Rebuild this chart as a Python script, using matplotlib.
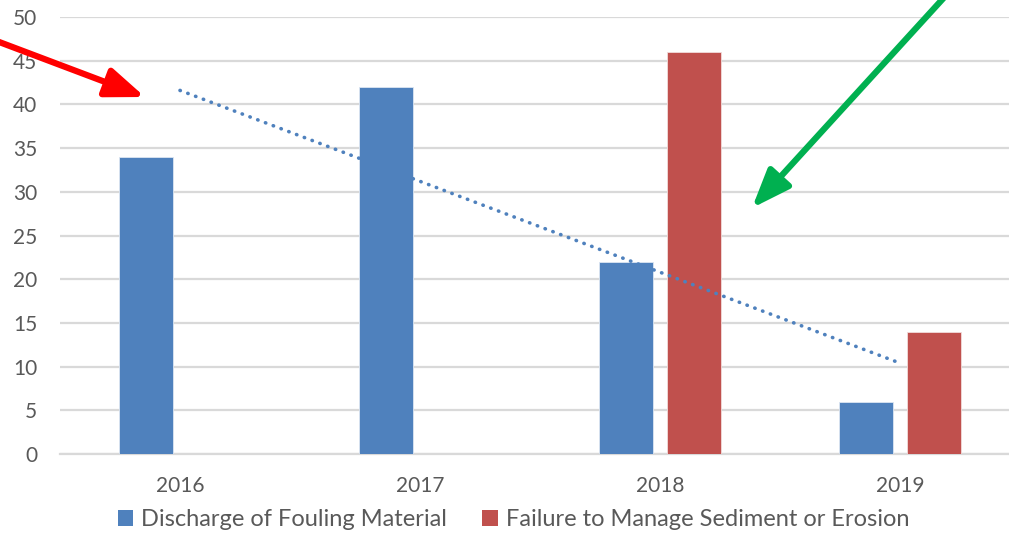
import numpy as np
import matplotlib
matplotlib.use('Agg')
import matplotlib.pyplot as plt
from matplotlib.patches import Patch

# data
years = ['2016', '2017', '2018', '2019']
discharge = [34, 42, 22, 6]
sediment = [0, 0, 46, 14]
y_ticks = [0, 5, 10, 15, 20, 25, 30, 35, 40, 45, 50]
series_names = ['Discharge of Fouling Material', 'Failure to Manage Sediment or Erosion']

blue = '#4F81BD'
red = '#C0504D'
grid_col = '#D9D9D9'
txt_col = '#595959'

plt.rcParams['font.family'] = ['Lato', 'DejaVu Sans']

W, H = 1009, 534
fig = plt.figure(figsize=(W / 100, H / 100), dpi=100)
# plot area runs past the right edge of the picture, as in the reference
ax = fig.add_axes([60 / W, 80 / H, 960 / W, 437 / H])

x = np.arange(len(years))
bw = 0.225
off = 0.1417
ax.bar(x - off, discharge, bw, color=blue, edgecolor='#DCE6F2', linewidth=0.6, zorder=3)
sed_x = [xi + off for xi, v in zip(x, sediment) if v > 0]
sed_v = [v for v in sediment if v > 0]
ax.bar(sed_x, sed_v, bw, color=red, edgecolor='#F2DCDB', linewidth=0.6, zorder=3)

# linear trendline of the discharge series
k, b = np.polyfit(x, discharge, 1)
ax.plot(x, k * x + b, color=blue, linestyle=(0, (0.1, 2.2)), linewidth=2.6,
        dash_capstyle='round', zorder=4)

ax.set_xlim(-0.5, 3.5)
ax.set_ylim(0, 50)
ax.set_yticks(y_ticks)
ax.set_xticks(x)
ax.set_xticklabels(years)
ax.tick_params(axis='both', length=0, labelsize=15, colors=txt_col)
ax.tick_params(axis='y', pad=16.5)
ax.tick_params(axis='x', pad=16)
ax.yaxis.grid(True, color=grid_col, linewidth=1.6, zorder=0)
ax.set_axisbelow(True)
for s in ['top', 'right', 'left']:
    ax.spines[s].set_visible(False)
ax.spines['bottom'].set_color(grid_col)
ax.spines['bottom'].set_linewidth(1.6)

handles = [Patch(facecolor=blue, edgecolor='none'), Patch(facecolor=red, edgecolor='none')]
fig.legend(handles, series_names, loc='center', bbox_to_anchor=(0.509, 0.027),
           ncol=2, frameon=False, fontsize=17, labelcolor=txt_col,
           handlelength=0.65, handleheight=0.65, handletextpad=0.35, columnspacing=1.5)

# annotation arrows (in figure pixels)
ax.annotate('', xy=(145, H - 97), xycoords='figure pixels',
            xytext=(-30, H - 31), textcoords='figure pixels',
            arrowprops=dict(arrowstyle='-|>,head_length=1.3,head_width=0.5', color='#FF0000',
                            lw=4.5, shrinkA=0, shrinkB=0, mutation_scale=18))
ax.annotate('', xy=(752, H - 208), xycoords='figure pixels',
            xytext=(960, H + 20), textcoords='figure pixels',
            arrowprops=dict(arrowstyle='-|>,head_length=1.3,head_width=0.5', color='#00B050',
                            lw=4.5, shrinkA=0, shrinkB=0, mutation_scale=18))

fig.savefig('out.png', dpi=100)
